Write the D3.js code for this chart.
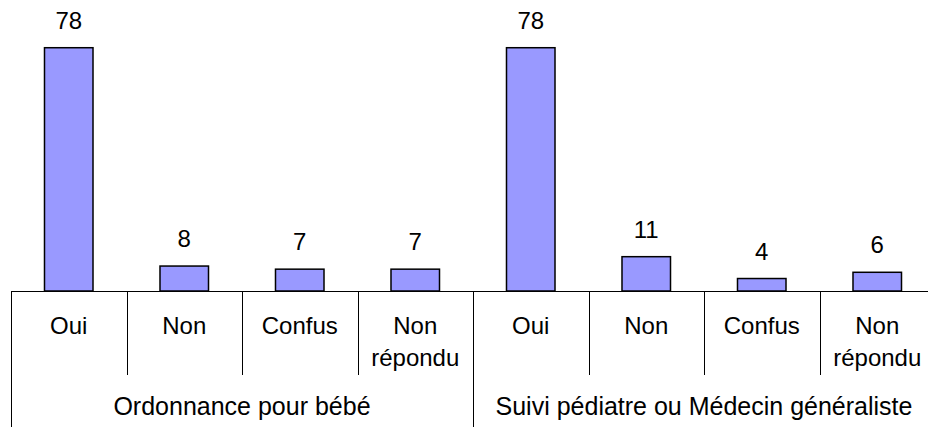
<!DOCTYPE html>
<html>
<head>
<meta charset="utf-8">
<script src="https://cdn.jsdelivr.net/npm/d3@7"></script>
<style>
  body { margin: 0; background: #fff; }
  text { font-family: "Liberation Sans", Arial, sans-serif; fill: #000; }
</style>
</head>
<body>
<svg id="chart" width="928" height="427"></svg>
<script>
const groups = ["Ordonnance pour bébé", "Suivi pédiatre ou Médecin généraliste"];
const categories = ["Oui", "Non", "Confus", "Non répondu"];
const valuesOrdonnance = [78, 8, 7, 7];
const valuesSuivi = [78, 11, 4, 6];

const width = 928;
const height = 427;
const left = 11;
const right = 935;
const axisY = 291;

const data = [];
groups.forEach((g, gi) => {
	const vals = gi === 0 ? valuesOrdonnance : valuesSuivi;
	categories.forEach((c, ci) => {
		data.push({ group: g, gi: gi, cat: c, value: vals[ci], key: gi + "-" + ci });
	});
});

const svg = d3.select("#chart");

const xScale = d3.scaleBand().domain(data.map(d => d.key)).range([left, right]).paddingInner(0).paddingOuter(0);
const barScale = d3.scaleBand().domain(data.map(d => d.key)).range([left, right]).paddingInner(0.58).paddingOuter(0.29);
const groupScale = d3.scaleBand().domain(groups).range([left, right]);
const yScale = d3.scaleLinear().domain([0, 93.3]).range([axisY, 0]);

// bars
svg.selectAll(".bar")
	.data(data)
	.enter()
	.append("rect")
	.attr("class", "bar")
	.attr("x", d => barScale(d.key))
	.attr("y", d => yScale(d.value))
	.attr("width", barScale.bandwidth())
	.attr("height", d => axisY - yScale(d.value))
	.attr("fill", "#9999ff")
	.attr("stroke", "#000")
	.attr("stroke-width", 1.5);

// value labels
svg.selectAll(".val")
	.data(data)
	.enter()
	.append("text")
	.attr("class", "val")
	.attr("x", d => barScale(d.key) + barScale.bandwidth() / 2)
	.attr("y", d => yScale(d.value) - 19)
	.attr("text-anchor", "middle")
	.style("font-size", "24px")
	.text(d => d.value);

// category dividers
svg.selectAll(".div")
	.data(data.filter((d, i) => i % 4 !== 0))
	.enter()
	.append("line")
	.attr("x1", d => Math.round(xScale(d.key)) + 0.5)
	.attr("x2", d => Math.round(xScale(d.key)) + 0.5)
	.attr("y1", axisY)
	.attr("y2", 375)
	.attr("stroke", "#000")
	.attr("stroke-width", 1);

// group dividers
svg.selectAll(".gdiv")
	.data(groups)
	.enter()
	.append("line")
	.attr("x1", d => Math.round(groupScale(d)) + 0.5)
	.attr("x2", d => Math.round(groupScale(d)) + 0.5)
	.attr("y1", axisY)
	.attr("y2", height)
	.attr("stroke", "#000")
	.attr("stroke-width", 1);

// axis line
svg.append("line")
	.attr("x1", left)
	.attr("x2", width)
	.attr("y1", axisY + 0.5)
	.attr("y2", axisY + 0.5)
	.attr("stroke", "#000")
	.attr("stroke-width", 1.2);

// category labels
svg.selectAll(".cat")
	.data(data)
	.enter()
	.append("text")
	.attr("class", "cat")
	.attr("text-anchor", "middle")
	.style("font-size", "24px")
	.each((d, i, nodes) => {
		const t = d3.select(nodes[i]);
		const cx = xScale(d.key) + xScale.bandwidth() / 2;
		d.cat.split(" ").forEach((w, wi) => {
			t.append("tspan")
				.attr("x", cx)
				.attr("y", 334 + wi * 32)
				.text(w);
		});
	});

// group labels
svg.selectAll(".grp")
	.data(groups)
	.enter()
	.append("text")
	.attr("class", "grp")
	.attr("x", d => groupScale(d) + groupScale.bandwidth() / 2)
	.attr("y", 415)
	.attr("text-anchor", "middle")
	.style("font-size", "25px")
	.text(d => d);
</script>
</body>
</html>
